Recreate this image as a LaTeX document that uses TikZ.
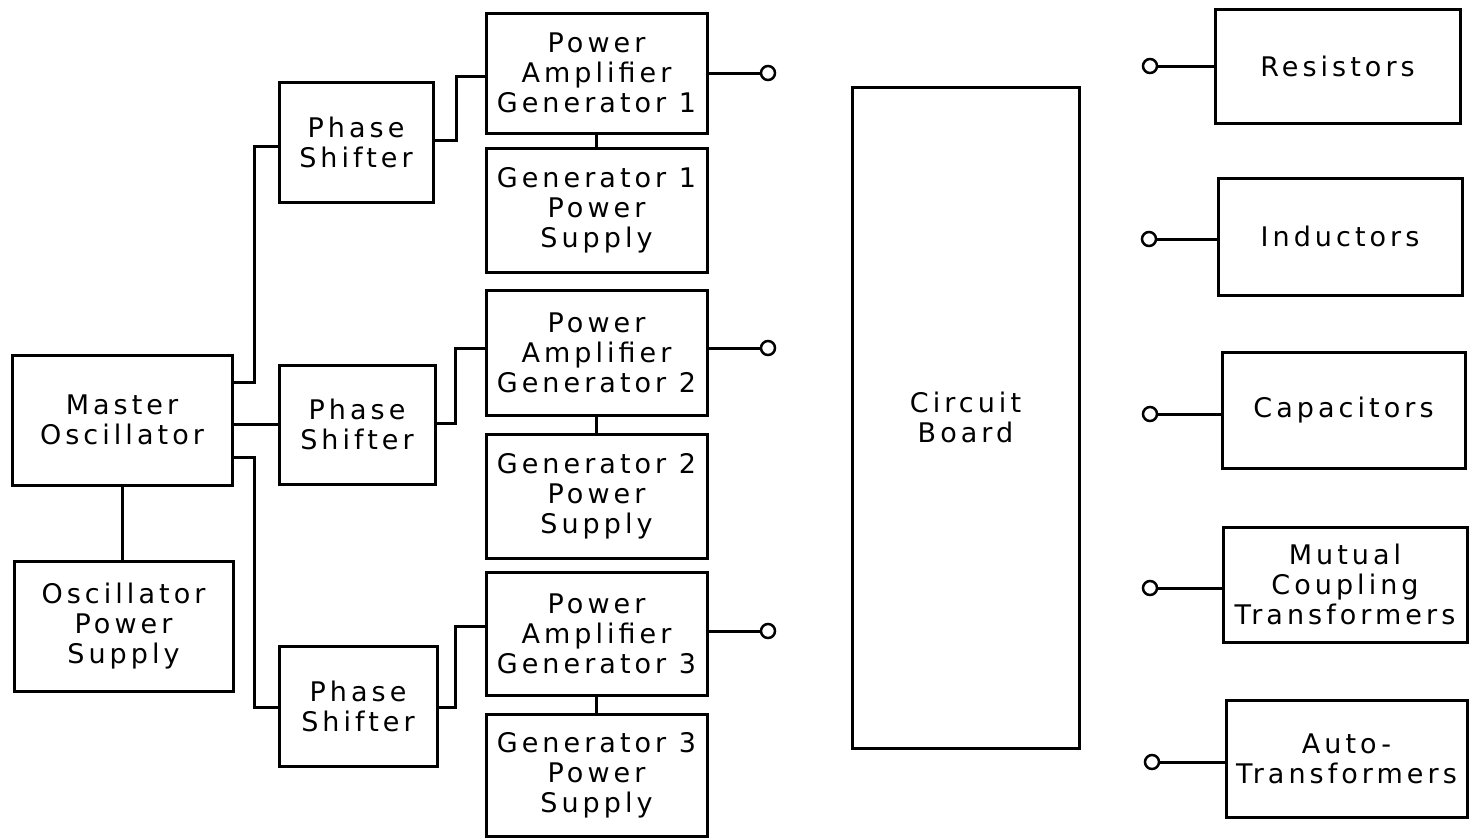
\documentclass[tikz,border=0pt]{standalone}
\usepackage{fontspec}
\newfontfamily\lett[LetterSpace=15]{DejaVu Sans}
\usetikzlibrary{calc}
\tikzset{
  blk/.style={draw, line width=3pt, align=center, inner sep=0pt,
    font=\lett\fontsize{27}{30}\selectfont},
  wire/.style={line width=3pt},
  term/.style={circle, draw, line width=2.5pt, minimum size=14pt, inner sep=0pt}
}
\begin{document}
\begin{tikzpicture}[x=1pt,y=-1pt]
\useasboundingbox (0,0) rectangle (1469,838);
% left column
\node[blk, minimum width=220, minimum height=130] (mo) at (122,420) {Master\\Oscillator};
\node[blk, minimum width=219, minimum height=130] (ops) at (123.5,626) {Oscillator\\Power\\Supply};
% phase shifters
\node[blk, minimum width=154, minimum height=120] (ps1) at (356,142) {Phase\\Shifter};
\node[blk, minimum width=156, minimum height=119] (ps2) at (357,424.5) {Phase\\Shifter};
\node[blk, minimum width=158, minimum height=120] (ps3) at (358,706) {Phase\\Shifter};
% amplifiers and supplies
\node[blk, minimum width=221, minimum height=120] (pa1) at (596.5,73) {Power\\Amplifier\\Generator 1};
\node[blk, minimum width=221, minimum height=124] (gps1) at (596.5,210) {Generator 1\\Power\\Supply};
\node[blk, minimum width=221, minimum height=125] (pa2) at (596.5,352.5) {Power\\Amplifier\\Generator 2};
\node[blk, minimum width=221, minimum height=124] (gps2) at (596.5,496) {Generator 2\\Power\\Supply};
\node[blk, minimum width=221, minimum height=123] (pa3) at (596.5,633.5) {Power\\Amplifier\\Generator 3};
\node[blk, minimum width=221, minimum height=122] (gps3) at (596.5,775) {Generator 3\\Power\\Supply};
% circuit board
\node[blk, minimum width=227, minimum height=661] (cb) at (965.5,417.5) {Circuit\\Board};
% components
\node[blk, minimum width=245, minimum height=114] (res) at (1337.5,66) {Resistors};
\node[blk, minimum width=244, minimum height=117] (ind) at (1340,236.5) {Inductors};
\node[blk, minimum width=243, minimum height=116] (cap) at (1343.5,410) {Capacitors};
\node[blk, minimum width=244, minimum height=115] (mut) at (1345,584.5) {Mutual\\Coupling\\Transformers};
\node[blk, minimum width=241, minimum height=117] (aut) at (1346.5,758.5) {Auto-\\Transformers};
% terminals
\node[term] (t1) at (768,73) {};
\node[term] (t2) at (768,348) {};
\node[term] (t3) at (768,631) {};
\node[term] (r1) at (1150,66) {};
\node[term] (r2) at (1149,239) {};
\node[term] (r3) at (1150,414) {};
\node[term] (r4) at (1150,588) {};
\node[term] (r5) at (1152,762) {};
% connectors
\draw[wire] (mo.south) -- (mo.south |- ops.north);
\draw[wire] ([yshift=38pt]mo.east) -| ([xshift=-23pt,yshift=-4pt]ps1.west) -- ([yshift=-4pt]ps1.west);
\draw[wire] (ps2.west) -- (mo.east |- ps2.west);
\draw[wire] ([yshift=-37pt]mo.east) -| ([xshift=-23pt,yshift=-1pt]ps3.west) -- ([yshift=-1pt]ps3.west);
\draw[wire] ([yshift=2pt]ps1.east) -| ([xshift=-28pt,yshift=-3pt]pa1.west) -- ([yshift=-3pt]pa1.west);
\draw[wire] ([yshift=1.5pt]ps2.east) -| ([xshift=-29pt,yshift=4.5pt]pa2.west) -- ([yshift=4.5pt]pa2.west);
\draw[wire] ([yshift=-1pt]ps3.east) -| ([xshift=-29pt,yshift=7.5pt]pa3.west) -- ([yshift=7.5pt]pa3.west);
\draw[wire] (pa1.south) -- (gps1.north);
\draw[wire] (pa2.south) -- (gps2.north);
\draw[wire] (pa3.south) -- (gps3.north);
\draw[wire] (t1.west) -- (pa1.east |- t1);
\draw[wire] (t2.west) -- (pa2.east |- t2);
\draw[wire] (t3.west) -- (pa3.east |- t3);
\draw[wire] (r1.east) -- (res.west |- r1);
\draw[wire] (r2.east) -- (ind.west |- r2);
\draw[wire] (r3.east) -- (cap.west |- r3);
\draw[wire] (r4.east) -- (mut.west |- r4);
\draw[wire] (r5.east) -- (aut.west |- r5);
\end{tikzpicture}
\end{document}
